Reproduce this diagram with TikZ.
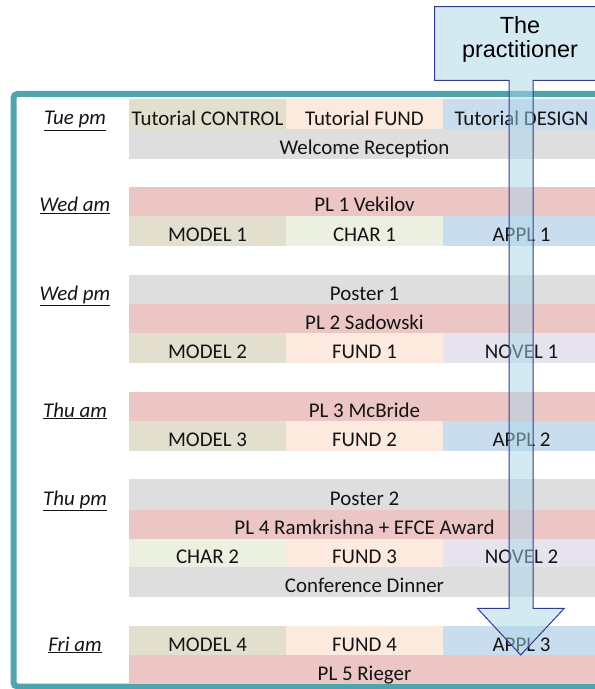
\documentclass[tikz,border=0pt]{standalone}
\usepackage{fontspec}
\setmainfont{Carlito}
\newfontfamily\arialfont{Liberation Sans}
\definecolor{cgray}{HTML}{DEDEDE}
\definecolor{cpink}{HTML}{ECC5C5}
\definecolor{cmodel}{HTML}{E2DFCE}
\definecolor{cfund}{HTML}{FDEADF}
\definecolor{cchar}{HTML}{EBF0E1}
\definecolor{cappl}{HTML}{CADDEE}
\definecolor{cnovel}{HTML}{E6E3EE}
\definecolor{cteal}{HTML}{4FA5AE}
\definecolor{carrowfill}{HTML}{ABD6E8}
\definecolor{carrowline}{HTML}{353A8F}
\definecolor{ctext}{HTML}{141414}
\tikzset{
  cell/.style={inner sep=0pt, minimum height=0pt, text=ctext, font=\fontsize{21}{24}\selectfont},
  daylabel/.style={inner sep=0pt, anchor=base, text=ctext, font=\fontsize{21}{24}\selectfont\itshape},
  frame/.style={draw=cteal, line width=6bp, rounded corners=4bp},
  callout/.style={fill=carrowfill, fill opacity=0.5, draw=carrowline, draw opacity=1, line width=1bp, line join=miter},
  calltext/.style={inner sep=0pt, align=center, text=black, font=\arialfont\fontsize{23.5}{24}\selectfont}
}
\newcommand\mkslot[7]{%
  \pgfmathsetmacro\slotcx{(#2+#3)/2}%
  \pgfmathsetmacro\slotw{#3-#2}%
  \pgfmathsetmacro\slotth{#5-#4-4}%
  \node[cell, fill=#6, minimum width=\slotw bp, text height=\slotth bp, text depth=4bp, anchor=north] (#1) at (\slotcx,#4) {#7};%
}
\begin{document}
\begin{tikzpicture}[x=1bp, y=-1bp]
\useasboundingbox (0,0) rectangle (595,689);
\fill[white] (0,0) rectangle (595,689);
\draw[frame] (13.5,94) rectangle (640,686.5);
% columns: 129, 286, 443, 600
% Tue pm
\mkslot{tutctrl}{129}{286}{99.3}{129.3}{cmodel}{Tutorial CONTROL}
\mkslot{tutfund}{286}{443}{99.3}{129.3}{cfund}{Tutorial FUND}
\mkslot{tutdes}{443}{600}{99.3}{129.3}{cappl}{Tutorial DESIGN}
\mkslot{welcome}{129}{600}{129.3}{158.7}{cgray}{Welcome Reception}
% Wed am
\mkslot{plone}{129}{600}{187}{215.7}{cpink}{PL 1 Vekilov}
\mkslot{modelone}{129}{286}{215.7}{245.7}{cmodel}{MODEL 1}
\mkslot{charone}{286}{443}{215.7}{245.7}{cchar}{CHAR 1}
\mkslot{applone}{443}{600}{215.7}{245.7}{cappl}{APPL 1}
% Wed pm
\mkslot{posterone}{129}{600}{275}{304}{cgray}{Poster 1}
\mkslot{pltwo}{129}{600}{304}{333}{cpink}{PL 2 Sadowski}
\mkslot{modeltwo}{129}{286}{333}{362.7}{cmodel}{MODEL 2}
\mkslot{fundone}{286}{443}{333}{362.7}{cfund}{FUND 1}
\mkslot{novelone}{443}{600}{333}{362.7}{cnovel}{NOVEL 1}
% Thu am
\mkslot{plthree}{129}{600}{392}{421}{cpink}{PL 3 McBride}
\mkslot{modelthree}{129}{286}{421}{450.7}{cmodel}{MODEL 3}
\mkslot{fundtwo}{286}{443}{421}{450.7}{cfund}{FUND 2}
\mkslot{appltwo}{443}{600}{421}{450.7}{cappl}{APPL 2}
% Thu pm
\mkslot{postertwo}{129}{600}{479}{509.3}{cgray}{Poster 2}
\mkslot{plfour}{129}{600}{509.3}{538.3}{cpink}{PL 4 Ramkrishna + EFCE Award}
\mkslot{chartwo}{129}{286}{538.3}{567}{cchar}{CHAR 2}
\mkslot{fundthree}{286}{443}{538.3}{567}{cfund}{FUND 3}
\mkslot{noveltwo}{443}{600}{538.3}{567}{cnovel}{NOVEL 2}
\mkslot{dinner}{129}{600}{567}{596.7}{cgray}{Conference Dinner}
% Fri am
\mkslot{modelfour}{129}{286}{626}{655}{cmodel}{MODEL 4}
\mkslot{fundfour}{286}{443}{626}{655}{cfund}{FUND 4}
\mkslot{applthree}{443}{600}{626}{655}{cappl}{APPL 3}
\mkslot{plfive}{129}{600}{655}{684}{cpink}{PL 5 Rieger}
% day labels
\node[daylabel] (tue) at (75,125) {\underline{Tue pm}};
\node[daylabel] (wedam) at (75,211.5) {\underline{Wed am}};
\node[daylabel] (wedpm) at (75,300) {\underline{Wed pm}};
\node[daylabel] (thuam) at (75,417) {\underline{Thu am}};
\node[daylabel] (thupm) at (75,505) {\underline{Thu pm}};
\node[daylabel] (friam) at (75,651) {\underline{Fri am}};
% callout arrow
\draw[callout] (434.7,6.7) -- (434.7,80.5) -- (509,80.5) -- (509,608.3) -- (477.4,608.3)
  -- (520.7,655) -- (564.3,608.3) -- (533,608.3) -- (533,80.5) -- (630,80.5) -- (630,6.7) -- cycle;
\node[calltext] (prac) at (520,39.2) {The\\practitioner};
\end{tikzpicture}
\end{document}
